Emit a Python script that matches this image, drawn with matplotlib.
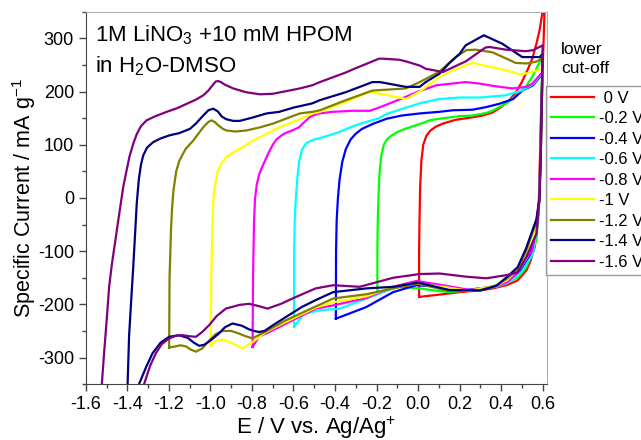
import matplotlib
matplotlib.use('Agg')
import matplotlib.pyplot as plt
from matplotlib.ticker import MultipleLocator, FormatStrFormatter

plt.rcParams['font.family'] = ['Liberation Sans', 'DejaVu Sans']
plt.rcParams['mathtext.default'] = 'regular'
plt.rcParams['axes.unicode_minus'] = False

# cut-off 0 V
e_0 = [0.005, 0.005, 0.007, 0.01, 0.016, 0.025, 0.04, 0.06, 0.085, 0.12, 0.18, 0.25, 0.31, 0.36, 0.4, 0.44,
       0.47, 0.5, 0.53, 0.55, 0.57, 0.585, 0.6, 0.615,
       0.605, 0.592, 0.582, 0.578, 0.562, 0.54, 0.522, 0.48, 0.426, 0.36, 0.313, 0.2, 0.12, 0.05, 0.005]
i_0 = [-186, -100, -42, 20, 70, 100, 117, 127, 134, 140, 147, 151, 155, 161, 171, 184,
       198, 218, 243, 262, 290, 315, 350, 420,
       300, 150, 0, -42, -92, -120, -136, -155, -164, -170, -173, -177, -181, -184, -186]

# cut-off -0.2 V
e_02 = [-0.196, -0.196, -0.194, -0.19, -0.185, -0.177, -0.165, -0.15, -0.13, -0.1, -0.056, 0.0, 0.056, 0.101,
        0.2, 0.262, 0.329, 0.358, 0.426, 0.47, 0.522, 0.55, 0.585, 0.6,
        0.592, 0.585, 0.57, 0.522, 0.48, 0.426, 0.36, 0.313, 0.233, 0.152, 0.08, 0.008, -0.088, -0.15, -0.196]
i_02 = [-177, -100, -42, 10, 50, 80, 100, 110, 117, 124, 131, 138, 146, 149,
        154, 155, 160, 164, 178, 192, 211, 228, 255, 275,
        150, 0, -80, -130, -150, -158, -166, -170, -174, -177, -174, -170, -167, -172, -177]

# cut-off -0.4 V
e_04 = [-0.396, -0.395, -0.392, -0.386, -0.378, -0.365, -0.348, -0.325, -0.3, -0.27, -0.22, -0.152, -0.08,
        0.008, 0.101, 0.168, 0.262, 0.329, 0.39, 0.458, 0.502, 0.554, 0.6,
        0.59, 0.585, 0.57, 0.538, 0.5, 0.458, 0.43, 0.361, 0.233, 0.104, -0.008, -0.12, -0.249, -0.396]
i_04 = [-227, -100, -42, 0, 35, 68, 92, 110, 121, 130, 139, 149, 155,
        159, 162, 165, 166, 171, 177, 186, 202, 212, 234,
        100, 0, -65, -111, -135, -148, -158, -167, -173, -167, -164, -177, -205, -227]

# cut-off -0.6 V
e_06 = [-0.597, -0.597, -0.594, -0.589, -0.582, -0.573, -0.56, -0.541, -0.52, -0.5, -0.46, -0.38, -0.313,
        -0.25, -0.188, -0.152, -0.09, 0.008, 0.1, 0.2, 0.3, 0.42, 0.5, 0.554, 0.6,
        0.59, 0.585, 0.57, 0.554, 0.5, 0.474, 0.43, 0.377, 0.249, 0.12, -0.008, -0.12, -0.249, -0.377,
        -0.473, -0.55, -0.597]
i_06 = [-242, -100, -42, -4, 35, 68, 90, 102, 107, 110, 114, 124, 135,
        143, 150, 158, 166, 178, 186, 189, 189, 193, 202, 214, 236,
        100, 0, -60, -105, -138, -148, -160, -167, -173, -167, -158, -170, -189, -208,
        -211, -218, -242]

# cut-off -0.8 V
e_08 = [-0.797, -0.795, -0.79, -0.785, -0.777, -0.765, -0.749, -0.72, -0.7, -0.682, -0.66, -0.64, -0.6,
        -0.573, -0.55, -0.522, -0.5, -0.475, -0.412, -0.316, -0.233, -0.188, -0.072, 0.0, 0.088, 0.229,
        0.3, 0.358, 0.454, 0.522, 0.55, 0.6,
        0.59, 0.585, 0.57, 0.55, 0.52, 0.48, 0.43, 0.377, 0.249, 0.12, -0.008, -0.12, -0.249, -0.409,
        -0.493, -0.605, -0.701, -0.766, -0.797]
i_08 = [-280, -150, -42, 0, 25, 45, 60, 85, 100, 110, 117, 122, 128,
        133, 142, 152, 156, 159, 162, 164, 164, 170, 188, 200, 212, 218,
        215, 211, 206, 209, 215, 237,
        100, 0, -55, -100, -112, -140, -158, -166, -173, -164, -156, -167, -188, -202,
        -208, -230, -249, -261, -280]

# cut-off -1 V
e_10 = [-0.999, -0.996, -0.99, -0.985, -0.978, -0.965, -0.947, -0.92, -0.89, -0.83, -0.794, -0.698, -0.669,
        -0.57, -0.509, -0.473, -0.348, -0.236, -0.15, -0.059, 0.008, 0.101, 0.168, 0.262, 0.394, 0.49,
        0.518, 0.6,
        0.592, 0.585, 0.57, 0.554, 0.52, 0.48, 0.43, 0.377, 0.3, 0.249, 0.12, -0.008, -0.12, -0.249,
        -0.409, -0.493, -0.637, -0.733, -0.797, -0.846, -0.9, -0.94, -0.98, -0.999]
i_10 = [-277, -150, -42, 0, 25, 50, 65, 78, 86, 99, 108, 127, 133,
        148, 159, 162, 181, 199, 194, 186, 200, 227, 240, 254, 243, 233,
        234, 243,
        100, 0, -50, -80, -105, -135, -154, -165, -170, -175, -167, -161, -167, -185,
        -196, -206, -233, -252, -271, -283, -272, -266, -270, -277]

# cut-off -1.2 V
e_12 = [-1.199, -1.197, -1.19, -1.185, -1.178, -1.165, -1.15, -1.12, -1.083, -1.06, -1.035, -1.01, -0.995,
        -0.98, -0.96, -0.94, -0.923, -0.88, -0.827, -0.76, -0.698, -0.57, -0.509, -0.473, -0.348, -0.22,
        -0.059, 0.008, 0.101, 0.181, 0.233, 0.277, 0.358, 0.426, 0.47, 0.522, 0.566, 0.6,
        0.592, 0.585, 0.57, 0.52, 0.48, 0.43, 0.377, 0.3, 0.15, 0.0, -0.12, -0.249, -0.409, -0.493,
        -0.56, -0.637, -0.72, -0.797, -0.83, -0.862, -0.9, -0.942, -0.975, -1.006, -1.04, -1.07, -1.095,
        -1.118, -1.145, -1.167, -1.199]
i_12 = [-281, -150, -60, -20, 15, 50, 70, 92, 108, 120, 133, 143, 146,
        143, 136, 130, 127, 125, 127, 133, 140, 159, 162, 165, 184, 202,
        206, 218, 237, 265, 278, 279, 274, 262, 254, 253, 256, 262,
        100, 0, -45, -100, -135, -151, -165, -173, -175, -161, -170, -181, -189, -204,
        -216, -230, -248, -264, -260, -255, -250, -250, -256, -268, -283, -289, -285,
        -279, -277, -279, -281]

# cut-off -1.4 V
e_14 = [-1.402, -1.399, -1.392, -1.383, -1.372, -1.362, -1.355, -1.345, -1.335, -1.324, -1.305, -1.276, -1.24,
        -1.196, -1.15, -1.099, -1.07, -1.035, -1.01, -0.987, -0.965, -0.945, -0.923, -0.89, -0.859, -0.8,
        -0.73, -0.669, -0.6, -0.509, -0.473, -0.348, -0.22, -0.184, -0.059, 0.008, 0.037, 0.104,
        0.149, 0.2, 0.229, 0.317, 0.406, 0.502, 0.586, 0.6,
        0.592, 0.585, 0.57, 0.52, 0.48, 0.43, 0.377, 0.3, 0.15, 0.0, -0.12, -0.249, -0.409, -0.493,
        -0.56, -0.621, -0.69, -0.74, -0.766, -0.79, -0.814, -0.85, -0.894, -0.93, -0.96, -1.0, -1.03,
        -1.054, -1.08, -1.11, -1.151, -1.199, -1.24, -1.279, -1.31, -1.343, -1.37, -1.402]
i_14 = [-700, -349, -260, -200, -130, -60, -10, 35, 62, 80, 95, 105, 112,
        118, 122, 130, 140, 155, 165, 168, 163, 153, 148, 145, 145, 151,
        159, 162, 170, 178, 184, 199, 218, 218, 209, 209, 218, 234,
        253, 271, 287, 306, 290, 265, 265, 271,
        100, 0, -40, -95, -130, -148, -165, -174, -173, -159, -167, -170, -177, -192,
        -205, -220, -237, -250, -252, -250, -247, -240, -236, -243, -255, -268, -276,
        -278, -272, -263, -258, -261, -272, -292, -318, -349, -420, -700]

# cut-off -1.6 V
e_16 = [-1.6, -1.53, -1.523, -1.512, -1.5, -1.488, -1.475, -1.46, -1.444, -1.43, -1.42, -1.405, -1.39,
        -1.372, -1.355, -1.335, -1.308, -1.27, -1.211, -1.16, -1.115, -1.07, -1.035, -1.01, -0.99, -0.975,
        -0.963, -0.95, -0.93, -0.89, -0.83, -0.762, -0.7, -0.634, -0.57, -0.509, -0.473, -0.348,
        -0.313, -0.188, -0.168, -0.091, -0.059, 0.008, 0.037, 0.12, 0.23, 0.325, 0.345, 0.422, 0.458,
        0.518, 0.554, 0.6,
        0.592, 0.585, 0.57, 0.522, 0.48, 0.426, 0.329, 0.233, 0.104, 0.008, -0.12, -0.281, -0.409, -0.493,
        -0.57, -0.605, -0.66, -0.725, -0.77, -0.814, -0.86, -0.926, -0.97, -1.006, -1.04, -1.07, -1.1,
        -1.134, -1.165, -1.199, -1.235, -1.263, -1.29, -1.319, -1.35, -1.6]
i_16 = [-900, -420, -349, -290, -230, -167, -125, -85, -42, -5, 21, 50, 78,
        102, 120, 135, 146, 153, 162, 169, 177, 185, 193, 202, 212, 219,
        220, 218, 213, 206, 199, 195, 196, 201, 206, 212, 218, 236,
        242, 262, 262, 260, 257, 249, 243, 237, 257, 283, 284, 279, 278,
        276, 278, 287,
        100, 0, -67, -111, -140, -145, -151, -148, -142, -143, -150, -167, -164, -170,
        -183, -189, -199, -208, -203, -199, -201, -208, -222, -239, -252, -261, -260,
        -258, -259, -264, -275, -292, -315, -349, -430, -900]

labels = [' 0 V', '-0.2 V', '-0.4 V', '-0.6 V', '-0.8 V', '-1 V', '-1.2 V', '-1.4 V', '-1.6 V']
colors = ['#FF0000', '#00FF00', '#0000FF', '#00FFFF', '#FF00FF', '#FFFF00', '#808000', '#000080', '#800080']
curves = [(e_0, i_0), (e_02, i_02), (e_04, i_04), (e_06, i_06), (e_08, i_08),
          (e_10, i_10), (e_12, i_12), (e_14, i_14), (e_16, i_16)]

fig = plt.figure(figsize=(6.41, 4.40), dpi=100)
ax = fig.add_axes([0.134, 0.127, 0.719, 0.846])

lines = []
for (e, cur), c, lab in zip(curves, colors, labels):
    ln, = ax.plot(e, cur, color=c, lw=1.6, label=lab, solid_joinstyle='round')
    lines.append(ln)

ax.set_xlim(-1.6, 0.62)
ax.set_ylim(-350, 350)
ax.xaxis.set_major_locator(MultipleLocator(0.2))
ax.xaxis.set_minor_locator(MultipleLocator(0.1))
ax.xaxis.set_major_formatter(FormatStrFormatter('%.1f'))
ax.yaxis.set_major_locator(MultipleLocator(100))
ax.yaxis.set_minor_locator(MultipleLocator(50))
ax.tick_params(which='both', direction='out', labelsize=13, color='#444444', width=1)
ax.tick_params(which='major', length=5)
ax.tick_params(which='minor', length=3)
for s in ['left', 'bottom']:
    ax.spines[s].set_color('#444444')
for s in ['top', 'right']:
    ax.spines[s].set_color('#b0b0b0')

ax.set_xlabel('E / V vs. Ag/Ag$^{+}$', fontsize=16, labelpad=1)
ax.set_ylabel('Specific Current / mA g$^{-1}$', fontsize=15.5, labelpad=0)

ax.text(0.02, 0.921, '1M LiNO$_3$ +10 mM HPOM', transform=ax.transAxes, fontsize=16, va='baseline')
ax.text(0.02, 0.838, 'in H$_2$O-DMSO', transform=ax.transAxes, fontsize=16, va='baseline')

fig.text(0.875, 0.905, 'lower\ncut-off', fontsize=12.5, va='top', linespacing=1.35)
leg = fig.legend(handles=lines, loc='upper left', bbox_to_anchor=(0.852, 0.805),
                 bbox_transform=fig.transFigure, fontsize=12, frameon=True, fancybox=False,
                 borderaxespad=0, borderpad=0.3, handlelength=2.6, handletextpad=0.3,
                 labelspacing=0.33)
leg.get_frame().set_edgecolor('#808080')
leg.get_frame().set_linewidth(1)

fig.savefig('out.png', dpi=100)
